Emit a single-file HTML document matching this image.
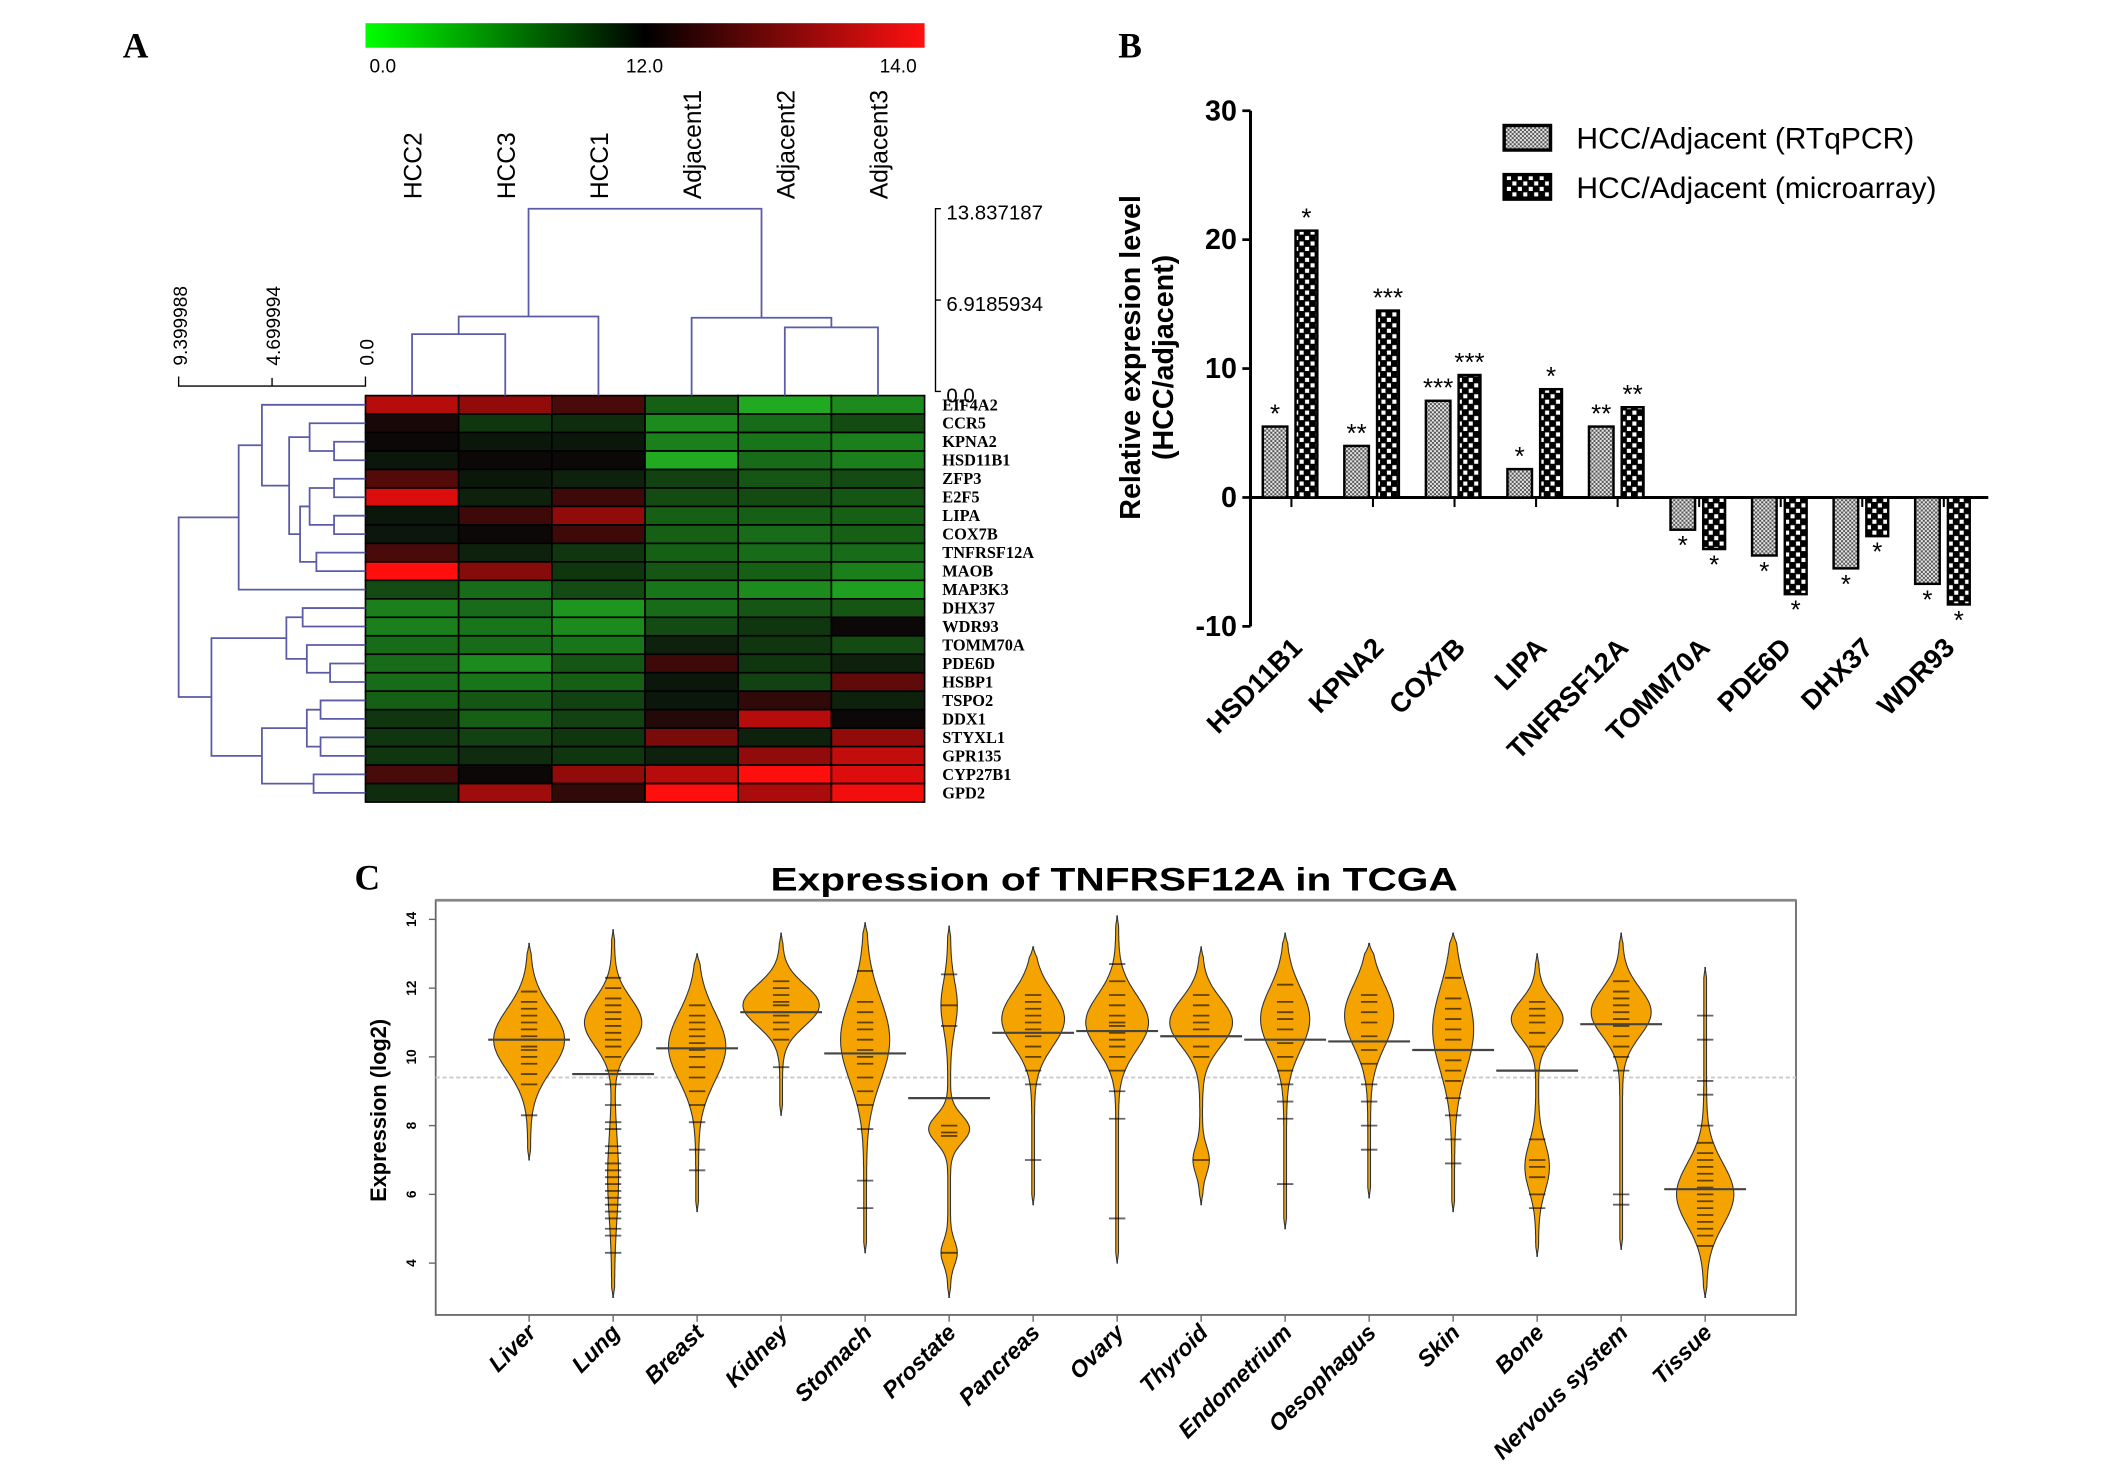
<!DOCTYPE html>
<html><head><meta charset="utf-8"><style>
html,body{margin:0;padding:0;background:#fff;}
svg{display:block;}
text{font-family:"Liberation Sans",Arial,sans-serif;}
text.serif{font-family:"Liberation Serif","Times New Roman",serif;}
</style></head><body>
<svg id="fig" xmlns="http://www.w3.org/2000/svg" width="2126" height="1465" viewBox="0 0 1559 1074" preserveAspectRatio="none">
<defs>
<pattern id="patRT" width="3" height="3" patternUnits="userSpaceOnUse"><rect width="3" height="3" fill="#e8e8e8"/><rect width="1.5" height="1.5" fill="#555"/><rect x="1.5" y="1.5" width="1.5" height="1.5" fill="#555"/></pattern>
<pattern id="patMA" width="8" height="8" patternUnits="userSpaceOnUse"><rect width="8" height="8" fill="#000"/><rect x="1" y="1" width="3" height="3" fill="#fff"/><rect x="5" y="5" width="3" height="3" fill="#fff"/></pattern>
<linearGradient id="cbar" x1="0" x2="1" y1="0" y2="0"><stop offset="0" stop-color="#00ff00"/><stop offset="0.5" stop-color="#000"/><stop offset="1" stop-color="#ff1010"/></linearGradient>
</defs>
<rect width="1559" height="1074" fill="#fff"/>
<text class="serif" x="90" y="42" font-weight="bold" font-size="26">A</text>
<text class="serif" x="820" y="42" font-weight="bold" font-size="26">B</text>
<text class="serif" x="260" y="652" font-weight="bold" font-size="26">C</text>
<rect x="268" y="17" width="410" height="18" fill="url(#cbar)"/>
<text x="271" y="53" font-size="14">0.0</text>
<text x="459" y="53" font-size="14">12.0</text>
<text x="645" y="53" font-size="14">14.0</text>
<g id="gA"></g><g id="gB"></g><g id="gC"></g>
</svg>
<script>
const NS="http://www.w3.org/2000/svg";
function mk(p,tag,at){const e=document.createElementNS(NS,tag);for(const k in at)e.setAttribute(k,at[k]);p.appendChild(e);return e;}
// ---------- Panel A data ----------
const genes=["EIF4A2","CCR5","KPNA2","HSD11B1","ZFP3","E2F5","LIPA","COX7B","TNFRSF12A","MAOB","MAP3K3","DHX37","WDR93","TOMM70A","PDE6D","HSBP1","TSPO2","DDX1","STYXL1","GPR135","CYP27B1","GPD2"];
const samples=["HCC2","HCC3","HCC1","Adjacent1","Adjacent2","Adjacent3"];
const heatVals=[
[0.7,0.55,0.25,-0.4,-0.75,-0.6],[0.05,-0.2,-0.15,-0.6,-0.45,-0.3],[0,-0.05,-0.05,-0.55,-0.5,-0.55],[-0.05,0,0,-0.75,-0.45,-0.55],
[0.3,-0.05,-0.1,-0.25,-0.35,-0.3],[0.85,-0.1,0.2,-0.3,-0.3,-0.35],[-0.05,0.2,0.55,-0.4,-0.4,-0.4],[-0.05,0,0.2,-0.4,-0.45,-0.4],
[0.25,-0.1,-0.2,-0.4,-0.45,-0.45],[1.0,0.5,-0.2,-0.35,-0.4,-0.55],[-0.3,-0.45,-0.3,-0.5,-0.6,-0.7],[-0.55,-0.45,-0.65,-0.45,-0.35,-0.35],
[-0.55,-0.5,-0.6,-0.3,-0.2,0],[-0.45,-0.45,-0.5,-0.1,-0.2,-0.3],[-0.45,-0.6,-0.35,0.2,-0.2,-0.1],[-0.45,-0.5,-0.4,-0.05,-0.25,0.35],
[-0.4,-0.35,-0.25,-0.05,0.15,-0.1],[-0.2,-0.4,-0.25,0.1,0.7,0],[-0.2,-0.25,-0.2,0.45,-0.1,0.55],[-0.2,-0.15,-0.2,-0.1,0.55,0.75],
[0.25,0,0.55,0.7,1.0,0.85],[-0.15,0.6,0.15,1.0,0.65,0.95]];
const rowMerges=[[2,3,1.58],[1,22,2.81],[4,5,1.58],[6,7,1.58],[24,25,2.81],[8,9,2.47],[26,27,3.29],[23,28,3.84],[0,29,5.21],[30,10,6.38],
[11,12,3.16],[14,15,1.78],[13,33,2.95],[32,34,3.98],[16,17,2.26],[18,19,2.26],[36,37,2.95],[20,21,2.61],[38,39,5.21],[35,40,7.75],[31,41,9.40]];
const colMerges=[[0,1,4.34],[6,2,5.68],[4,5,4.85],[3,8,5.58],[7,9,13.837187]];
const rowScaleTicks=["9.399988","4.699994","0.0"];
const colScaleTicks=["13.837187","6.9185934","0.0"];
const gA=document.getElementById('gA');
const HX=268,HY=290,CW=410/6,RH=298/22;
function heatColor(v){if(v>=0){return `rgb(${Math.round(12+243*v)},${Math.round(8+6*v)},${Math.round(8+6*v)})`;}const a=-v;return `rgb(${Math.round(10+30*a)},${Math.round(12+210*a)},${Math.round(10+30*a)})`;}
genes.forEach((g,r)=>{samples.forEach((s,c)=>{
 const e=mk(gA,'rect',{x:HX+c*CW,y:HY+r*RH,width:CW,height:RH,fill:heatColor(heatVals[r][c]),stroke:'#000','stroke-width':1.2});
 
 });
 const t=mk(gA,'text',{x:691,y:HY+(r+0.5)*RH+4,'font-size':12,'font-weight':'bold',class:'serif'});t.textContent=g;
 
 
});
samples.forEach((s,c)=>{const cx=HX+(c+0.5)*CW+7;const t=mk(gA,'text',{x:cx,y:146,'font-size':18,'text-anchor':'start',transform:`rotate(-90 ${cx} 146)`});t.textContent=s;
 
 });
const DC='#5b5ba8';
const rx=h=>268-h/9.399988*137;
const rpos=[];genes.forEach((g,r)=>rpos.push({x:268,y:HY+(r+0.5)*RH}));
rowMerges.forEach((m,i)=>{const a=rpos[m[0]],b=rpos[m[1]],x=rx(m[2]);
 const p=mk(gA,'path',{d:`M${a.x},${a.y}H${x}V${b.y}H${b.x}`,fill:'none',stroke:DC,'stroke-width':1.3});
 
 
 rpos.push({x:x,y:(a.y+b.y)/2});});
const cy=h=>287-h/13.837187*134;
const cpos=[];samples.forEach((s,c)=>cpos.push({x:HX+(c+0.5)*CW,y:290}));
colMerges.forEach(m=>{const a=cpos[m[0]],b=cpos[m[1]],y=cy(m[2]);
 const p=mk(gA,'path',{d:`M${a.x},${a.y}V${y}H${b.x}V${b.y}`,fill:'none',stroke:DC,'stroke-width':1.3});
 
 
 cpos.push({x:(a.x+b.x)/2,y:y});});
let sc=mk(gA,'path',{d:`M${rx(9.399988)},276V283H268V276M${rx(4.699994)},283V277`,fill:'none',stroke:'#000','stroke-width':1});

rowScaleTicks.forEach(t=>{const x=rx(parseFloat(t))+6;const e=mk(gA,'text',{x:x,y:268,'font-size':14,transform:`rotate(-90 ${x} 268)`});e.textContent=t;
 });
sc=mk(gA,'path',{d:`M690,${cy(13.837187)}H686V${cy(0)}H690M686,${cy(6.9185934)}H690`,fill:'none',stroke:'#000','stroke-width':1});

colScaleTicks.forEach(t=>{const y=cy(parseFloat(t))+8;const e=mk(gA,'text',{x:694,y:y,'font-size':15});e.textContent=t;
 });

// ---------- Panel B ----------
const bGenes=["HSD11B1","KPNA2","COX7B","LIPA","TNFRSF12A","TOMM70A","PDE6D","DHX37","WDR93"];
const rtVals=[5.5,4,7.5,2.2,5.5,-2.5,-4.5,-5.5,-6.7];
const maVals=[20.7,14.5,9.5,8.4,7,-4,-7.5,-3,-8.3];
const rtStars=["*","**","***","*","**","*","*","*","*"];
const maStars=["*","***","***","*","**","*","*","*","*"];
const bTicks=[30,20,10,0,-10];
const gB=document.getElementById('gB');
const by=v=>364.7-v*9.45;
const g0=926,gs=59.8;
let e=mk(gB,'path',{d:`M917,${by(30)}V${by(-10)}M917,${by(0)}H1458`,stroke:'#000','stroke-width':2.2,fill:'none'});

bTicks.forEach(t=>{mk(gB,'line',{x1:911,x2:917,y1:by(t),y2:by(t),stroke:'#000','stroke-width':2});
 const tx=mk(gB,'text',{x:907,y:by(t)+7,'font-size':21,'font-weight':'bold','text-anchor':'end'});tx.textContent=t;
 });
bGenes.forEach((g,i)=>{const x=g0+i*gs;
 [[rtVals[i],x,18,'url(#patRT)',rtStars[i],'rtqpcr'],[maVals[i],x+24,16,'url(#patMA)',maStars[i],'microarray']].forEach(d=>{
  const v=d[0],y0=by(0),y1=by(v);
  const r=mk(gB,'rect',{x:d[1],y:Math.min(y0,y1),width:d[2],height:Math.abs(y1-y0),fill:d[3],stroke:'#000','stroke-width':1.8});
  
  
  const sy=v>=0?y1-3:y1+18;
  const s=mk(gB,'text',{x:d[1]+d[2]/2,y:sy,'font-size':19,'text-anchor':'middle'});s.textContent=d[4];
  
  
 });
 mk(gB,'line',{x1:x+21,x2:x+21,y1:by(0),y2:by(0)+7,stroke:'#000','stroke-width':1.5});
 const lx=x+30,ly=476;
 const t=mk(gB,'text',{x:lx,y:ly,'font-size':20,'font-weight':'bold','text-anchor':'end',transform:`rotate(-45 ${lx} ${ly})`});t.textContent=g;
 
 
});
e=mk(gB,'text',{x:836,y:262,'font-size':21,'font-weight':'bold','text-anchor':'middle',transform:'rotate(-90 836 262)'});e.textContent='Relative expresion level';

e=mk(gB,'text',{x:860,y:262,'font-size':21,'font-weight':'bold','text-anchor':'middle',transform:'rotate(-90 860 262)'});e.textContent='(HCC/adjacent)';

[['url(#patRT)','HCC/Adjacent (RTqPCR)',101,'legend-entry-rtqpcr'],['url(#patMA)','HCC/Adjacent (microarray)',137,'legend-entry-microarray']].forEach(l=>{
 const sw=mk(gB,'rect',{x:1103,y:l[2]-9,width:34,height:18,fill:l[0],stroke:'#000','stroke-width':2.5});
 
 const t=mk(gB,'text',{x:1156,y:l[2]+8,'font-size':22});t.textContent=l[1];
 });

// ---------- Panel C ----------
const tissues=["Liver","Lung","Breast","Kidney","Stomach","Prostate","Pancreas","Ovary","Thyroid","Endometrium","Oesophagus","Skin","Bone","Nervous system","Tissue"];
const medians=[10.5,9.5,10.25,11.3,10.1,8.8,10.7,10.75,10.6,10.5,10.45,10.2,9.6,10.95,6.15];
const vMin=[7,3,5.5,8.3,4.3,3,5.7,4,5.7,5,5.9,5.5,4.2,4.4,3];
const vMax=[13.3,13.7,13,13.6,13.9,13.8,13.2,14.1,13.2,13.6,13.3,13.6,13,13.6,12.6];
const modeCenters=[[10.5],[11,6.5],[10.3],[11.5],[10.5],[7.9,11.5,4.3],[11.1],[11],[11,7.0],[11.1],[11.2],[10.8],[11.1,6.8],[11.3],[6.0]];
const modeWidths=[[25],[20,3],[20],[27],[17],[14,5,5],[22],[22],[22,5],[17],[17],[14],[18,8],[21],[20]];
const modeSpreads=[[0.9],[0.7,1.2],[1.0],[0.6],[1.2],[0.4,0.7,0.35],[0.8],[0.8],[0.7,0.4],[0.9],[0.9],[1.2],[0.55,0.7],[0.7],[0.9]];
const rugVals=[
[8.3,9.2,9.5,9.8,10,10.2,10.3,10.5,10.6,10.8,11,11.2,11.4,11.6,11.9],
[4.3,4.8,5,5.3,5.5,5.7,5.9,6.1,6.3,6.5,6.7,6.9,7.2,7.4,7.9,8.1,8.6,9.2,9.6,10,10.3,10.5,10.7,10.9,11.1,11.3,11.5,11.7,12,12.3],
[6.7,7.3,8.1,8.6,9,9.4,9.7,10,10.2,10.4,10.6,10.8,11,11.2,11.5],
[9.7,10.5,10.8,11,11.2,11.3,11.5,11.6,11.8,12,12.2],
[5.6,6.4,7.9,8.6,9,9.4,9.8,10,10.2,10.5,10.8,11,11.3,11.6,12.5],
[4.3,7.7,7.8,8,10.9,11.5,12.4],
[7,9.2,9.6,10,10.3,10.6,10.8,11,11.2,11.4,11.6,11.8],
[5.3,8.2,9,9.6,10,10.3,10.5,10.7,10.9,11,11.2,11.5,11.8,12.2,12.7],
[7,10,10.3,10.6,10.8,11,11.2,11.5,11.8],
[6.3,8.2,8.7,9.2,9.6,10,10.4,10.8,11.1,11.3,11.6,12.1],
[7.3,8,8.7,9.2,9.8,10.2,10.6,11,11.3,11.6,11.8],
[6.9,7.6,8.3,8.8,9.3,9.6,9.9,10.2,10.5,10.8,11.1,11.4,11.7,12.3],
[5.6,6,6.5,6.8,7,7.6,10.3,10.7,11,11.2,11.4,11.6],
[5.7,6,9.6,10,10.3,10.6,10.9,11.1,11.3,11.5,11.7,11.9,12.2],
[4.5,4.8,5,5.2,5.4,5.6,5.8,6,6.2,6.4,6.6,6.8,7,7.2,7.5,8,8.9,9.3,10.5,11.2]];
const cTicks=[4,6,8,10,12,14];
const refLine=9.4;
const gC=document.getElementById('gC');
const PX0=319.5,PX1=1317,PY0=660,PY1=964;
const cyv=v=>926-(v-4)*25.2;
const cxv=i=>388+i*61.6;
e=mk(gC,'text',{x:817,y:653,'font-size':24,'font-weight':'bold','text-anchor':'middle',textLength:504,lengthAdjust:'spacingAndGlyphs'});e.textContent='Expression of TNFRSF12A in TCGA';

e=mk(gC,'rect',{x:PX0,y:PY0,width:PX1-PX0,height:PY1-PY0,fill:'none',stroke:'#666','stroke-width':1.3});

mk(gC,'line',{x1:PX0,x2:PX1,y1:PY0,y2:PY0,stroke:'#888','stroke-width':2});
e=mk(gC,'line',{x1:PX0,x2:PX1,y1:cyv(refLine),y2:cyv(refLine),stroke:'#ccc','stroke-width':1.5,'stroke-dasharray':'3,2'});

cTicks.forEach(t=>{mk(gC,'line',{x1:PX0-5,x2:PX0,y1:cyv(t),y2:cyv(t),stroke:'#666'});
 const x=305;const tx=mk(gC,'text',{x:x,y:cyv(t),'font-size':10,'font-weight':'bold','text-anchor':'middle',transform:`rotate(-90 ${x} ${cyv(t)})`});tx.textContent=t;
 });
e=mk(gC,'text',{x:283,y:814,'font-size':16,'font-weight':'bold','text-anchor':'middle',transform:'rotate(-90 283 814)'});e.textContent='Expression (log2)';

tissues.forEach((tn,i)=>{const cx=cxv(i);
 const L=[],R=[];
 for(let v=vMin[i];v<=vMax[i]+1e-6;v+=0.05){let w=1.0;modeCenters[i].forEach((m,k)=>{w+=modeWidths[i][k]*Math.exp(-0.5*Math.pow((v-m)/modeSpreads[i][k],2));});
  const t=Math.min(1,(v-vMin[i])/0.3,(vMax[i]-v)/0.3);w*=Math.max(0.15,t);
  L.push([cx-w,cyv(v)]);R.push([cx+w,cyv(v)]);}
 const pts=L.concat(R.reverse());
 const vp=mk(gC,'path',{d:'M'+pts.map(p=>p[0].toFixed(1)+','+p[1].toFixed(1)).join('L')+'Z',fill:'#f5a300',stroke:'#333','stroke-width':0.8});
 
 
 rugVals[i].forEach(v=>{const r=mk(gC,'line',{x1:cx-6,x2:cx+6,y1:cyv(v),y2:cyv(v),stroke:'rgba(0,0,0,0.6)','stroke-width':1.3});
  
  });
 const md=mk(gC,'line',{x1:cx-30,x2:cx+30,y1:cyv(medians[i]),y2:cyv(medians[i]),stroke:'#444','stroke-width':1.6});
 
 
 mk(gC,'line',{x1:cx,x2:cx,y1:PY1,y2:PY1+5,stroke:'#666'});
 const lx=cx+6,ly=978;
 const t=mk(gC,'text',{x:lx,y:ly,'font-size':17,'font-weight':'bold','font-style':'italic','text-anchor':'end',transform:`rotate(-45 ${lx} ${ly})`});t.textContent=tn;
 
 
});
</script>
</body></html>
